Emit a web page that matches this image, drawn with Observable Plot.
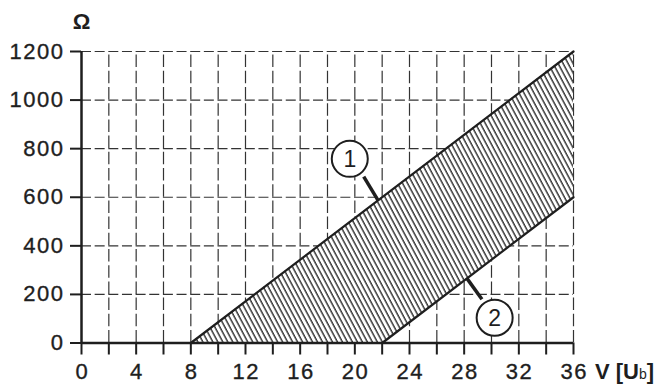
<!DOCTYPE html>
<html><head><meta charset="utf-8">
<script src="https://cdn.jsdelivr.net/npm/d3@7"></script>
<script src="https://cdn.jsdelivr.net/npm/@observablehq/plot@0.6"></script>
<style>body{margin:0;background:#fff} svg{display:block;background:#fff}</style>
</head><body><div id="chart"></div>
<script>
// grid & ticks
const xGrid = [2,4,6,8,10,12,14,16,18,20,22,24,26,28,30,32,34,36];
const yGrid = [200,400,600,800,1000,1200];
const xMinorTicks = [0,2,4,6,8,10,12,14,16,18,20,22,24,26,28,30,32,34,36];
const xLabels = [0,4,8,12,16,20,24,28,32,36];
const yLabels = [0,200,400,600,800,1000,1200];
// hatched band between curve 1 (upper) and curve 2 (lower)
const bandX = [8,22,36];
const bandLow = [0,0,600];
const bandHigh = [0,600,1200];
const curve1X = [8,36], curve1Y = [0,1200];
const curve2X = [22,36], curve2Y = [0,600];
// callouts
const calloutLabels = ["1","2"];
const calloutX = [19.63,30.23], calloutY = [758,104];
const leaderX1 = [20.65,28.2], leaderY1 = [685,266];
const leaderX2 = [21.7,29.3], leaderY2 = [587,180];

const ink = "#1e1e1e";
const font = "'Liberation Sans', Arial, sans-serif";
const band = bandX.map((x,i)=>({x, lo: bandLow[i], hi: bandHigh[i]}));
const c1 = curve1X.map((x,i)=>({x, y: curve1Y[i]}));
const c2 = curve2X.map((x,i)=>({x, y: curve2Y[i]}));
const callouts = calloutLabels.map((t,i)=>({t, x: calloutX[i], y: calloutY[i],
  x1: leaderX1[i], y1: leaderY1[i], x2: leaderX2[i], y2: leaderY2[i]}));

const chart = Plot.plot({
  width: 667, height: 387,
  marginLeft: 81, marginRight: 94, marginTop: 51, marginBottom: 44.5,
  style: {fontFamily: font, color: ink, background: "#fff"},
  x: {domain: [0,36]},
  y: {domain: [0,1200]},
  marks: [
    Plot.ruleX(xGrid, {y1: 0, y2: 1200, stroke: "#333", strokeWidth: 1.2, strokeDasharray: "12.5,3.7"}),
    Plot.ruleY(yGrid, {x1: 0, x2: 36, stroke: "#333", strokeWidth: 1.2, strokeDasharray: "10,3.65"}),
    Plot.areaY(band, {x: "x", y1: "lo", y2: "hi", fill: "url(#hatch)"}),
    Plot.line(c1, {x: "x", y: "y", stroke: ink, strokeWidth: 2.2}),
    Plot.line(c2, {x: "x", y: "y", stroke: ink, strokeWidth: 2.2}),
    Plot.axisX({ticks: xMinorTicks, tickSize: 12, tickFormat: () => "", stroke: ink, strokeWidth: 2}),
    Plot.axisX({ticks: xLabels, tickSize: 0, tickPadding: 20, tickFormat: d => String(d), fontSize: 22, fill: ink, label: null, dx: 0.75}),
    Plot.axisY({ticks: yLabels, tickSize: 11, tickPadding: 6, tickFormat: d => String(d), fontSize: 22, fill: ink, stroke: ink, strokeWidth: 2, label: null}),
    Plot.ruleX([0], {y1: 0, y2: 1200, stroke: ink, strokeWidth: 2.5}),
    Plot.ruleY([0], {x1: 0, x2: 36, stroke: ink, strokeWidth: 2.5}),
    Plot.link(callouts, {x1: "x1", y1: "y1", x2: "x2", y2: "y2", stroke: ink, strokeWidth: 3.5}),
    Plot.dot(callouts, {x: "x", y: "y", r: 18, fill: "white", stroke: ink, strokeWidth: 2}),
    Plot.text(callouts, {x: "x", y: "y", text: "t", fontSize: 23, fill: ink, dy: 1}),
    Plot.text(["Ω"], {x: 0, y: 1200, dy: -30, fontSize: 22, fontWeight: "bold", fill: ink})
  ]
});

const svg = d3.select(chart);
// wider, slightly heavier tick-label lettering, like the reference
svg.selectAll('[aria-label="x-axis tick label"] text, [aria-label="y-axis tick label"] text')
  .attr("letter-spacing", "1.5px").attr("font-size", 22)
  .attr("stroke", ink).attr("stroke-width", 0.35);

// hatch pattern
const defs = svg.insert("defs", ":first-child");
const pat = defs.append("pattern").attr("id", "hatch")
  .attr("patternUnits", "userSpaceOnUse").attr("width", 4.4).attr("height", 10)
  .attr("patternTransform", "rotate(-28)");
pat.append("rect").attr("width", 4.4).attr("height", 10).attr("fill", "white");
pat.append("line").attr("x1", 1).attr("x2", 1).attr("y1", -1).attr("y2", 11)
  .attr("stroke", "#111").attr("stroke-width", 1.25);

// axis title "V [Ub]" with subscript
const sx = chart.scale("x"), sy = chart.scale("y");
const t = svg.append("text")
  .attr("x", sx.apply(36) + 22).attr("y", sy.apply(0) + 36)
  .attr("text-anchor", "start")
  .attr("font-size", 22).attr("font-weight", "bold").attr("fill", ink)
  .attr("font-family", font);
t.append("tspan").text("V [U");
t.append("tspan").attr("font-size", 14).attr("font-weight", "normal").text("b");
t.append("tspan").text("]");

document.getElementById("chart").append(chart);
</script></body></html>
